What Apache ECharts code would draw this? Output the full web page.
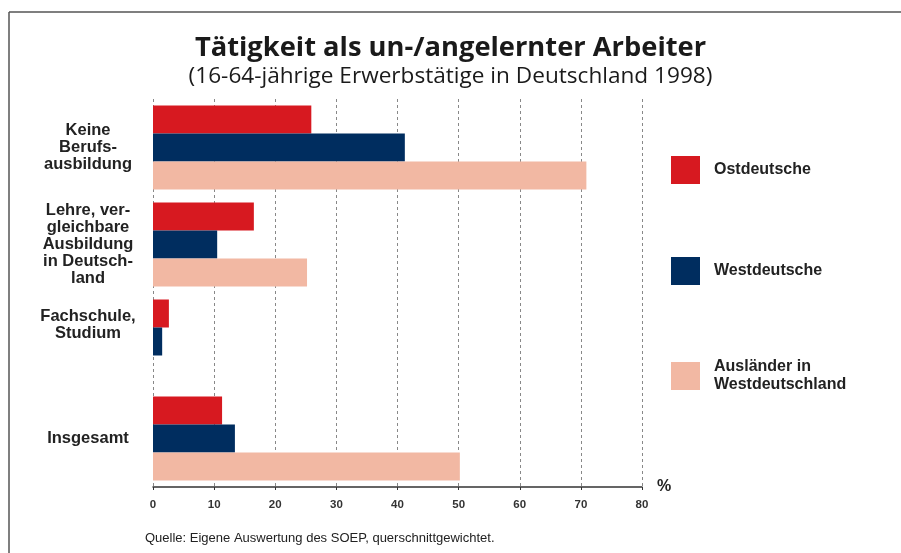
<!DOCTYPE html>
<html>
<head>
<meta charset="utf-8">
<script src="https://cdn.jsdelivr.net/npm/echarts@6/dist/echarts.min.js"></script>
<style>
  html, body { margin: 0; padding: 0; background: #fff; }
  #chart { width: 901px; height: 553px; }
</style>
</head>
<body>
<div id="chart"></div>
<script>
var categories = [
  'Keine\nBerufs-\nausbildung',
  'Lehre, ver-\ngleichbare\nAusbildung\nin Deutsch-\nland',
  'Fachschule,\nStudium',
  'Insgesamt'
];
var seriesNames = ['Ostdeutsche', 'Westdeutsche', 'Ausländer in\nWestdeutschland'];
var ostdeutsche = [25.9, 16.5, 2.6, 11.3];
var westdeutsche = [41.2, 10.5, 1.5, 13.4];
var auslaender = [70.9, 25.2, null, 50.2];
var xTicks = { min: 0, max: 80, interval: 10 };
var colors = ['#D71920', '#002D5F', '#F2B8A3'];

var chart = echarts.init(document.getElementById('chart'), null, { renderer: 'canvas' });

var labelFont = 'Liberation Sans, Arial, sans-serif';

var legendData = seriesNames.map(function (n, i) {
  if (i === 2) {
    return { name: n, textStyle: { lineHeight: 18 } };
  }
  return { name: n };
});

var yData = categories.map(function (c, i) {
  if (i === 2) {
    return { value: c, textStyle: { verticalAlign: 'bottom', align: 'center' } };
  }
  return c;
});

var option = {
  backgroundColor: '#ffffff',
  animation: false,
  title: [
    {
      text: 'Tätigkeit als un-/angelernter Arbeiter',
      left: 'center',
      top: 35,
      padding: 0,
      textStyle: { fontFamily: 'Open Sans', fontWeight: 'bold', fontSize: 27.3, color: '#1a1a1a' }
    },
    {
      text: '(16-64-jährige Erwerbstätige in Deutschland 1998)',
      left: 'center',
      top: 65,
      padding: 0,
      textStyle: { fontFamily: 'Open Sans', fontWeight: 'normal', fontSize: 22.6, color: '#1a1a1a' }
    }
  ],
  legend: {
    orient: 'vertical',
    left: 671,
    top: 156,
    padding: 0,
    itemWidth: 29,
    itemHeight: 28,
    itemGap: 73,
    icon: 'rect',
    data: legendData,
    textStyle: {
      fontFamily: labelFont,
      fontWeight: 'bold',
      fontSize: 16,
      lineHeight: 19,
      color: '#222',
      padding: [0, 0, 0, 9]
    }
  },
  grid: { left: 153, right: 259, top: 99, bottom: 66, containLabel: false, outerBoundsMode: 'none' },
  xAxis: {
    type: 'value',
    min: xTicks.min,
    max: xTicks.max,
    interval: xTicks.interval,
    name: '%',
    nameLocation: 'end',
    nameGap: 15,
    nameTextStyle: { fontFamily: labelFont, fontWeight: 'bold', fontSize: 16, color: '#222', verticalAlign: 'middle' },
    axisLine: { show: true, lineStyle: { color: '#333', width: 1.5 } },
    axisTick: { show: true, length: 3, lineStyle: { color: '#333', width: 1 } },
    axisLabel: { margin: 12, fontFamily: labelFont, fontWeight: 'bold', fontSize: 11.5, color: '#333' },
    splitLine: { show: true, lineStyle: { color: '#888', width: 1, type: [3, 3] } }
  },
  yAxis: {
    type: 'category',
    inverse: true,
    data: yData,
    axisLine: { show: false },
    axisTick: { show: false },
    axisLabel: {
      margin: 65,
      align: 'center',
      fontFamily: labelFont,
      fontWeight: 'bold',
      fontSize: 16.5,
      lineHeight: 17,
      color: '#222'
    }
  },
  series: [
    { name: seriesNames[0], type: 'bar', data: ostdeutsche, barWidth: 28, barGap: '0%', itemStyle: { color: colors[0] } },
    { name: seriesNames[1], type: 'bar', data: westdeutsche, barWidth: 28, barGap: '0%', itemStyle: { color: colors[1] } },
    { name: seriesNames[2], type: 'bar', data: auslaender, barWidth: 28, barGap: '0%', itemStyle: { color: colors[2] } }
  ],
  graphic: [
    { type: 'line', shape: { x1: 9, y1: 12, x2: 901, y2: 12 }, style: { stroke: '#555', lineWidth: 1.5 } },
    { type: 'line', shape: { x1: 9, y1: 12, x2: 9, y2: 553 }, style: { stroke: '#555', lineWidth: 1.5 } },
    {
      type: 'text',
      left: 145,
      top: 532,
      style: {
        text: 'Quelle: Eigene Auswertung des SOEP, querschnittgewichtet.',
        fontFamily: labelFont,
        fontSize: 13,
        fill: '#222'
      }
    }
  ]
};
chart.setOption(option);
</script>
</body>
</html>
